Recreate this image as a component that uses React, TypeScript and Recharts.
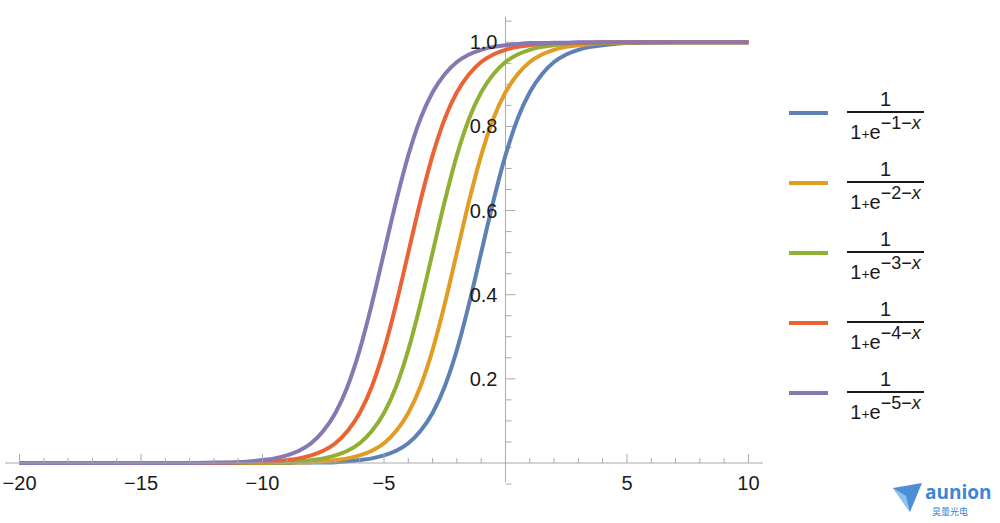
import React from "react";
import { LineChart, Line, XAxis, YAxis, ReferenceLine } from "recharts";

// sample points along x (denser where the curves bend)
const xValues = [
  -20, -19, -18, -17, -16, -15, -14, -13, -12, -11, -10,
  -9.5, -9, -8.5, -8, -7.5, -7, -6.5, -6, -5.5, -5, -4.5, -4, -3.5, -3, -2.5, -2, -1.5, -1, -0.5,
  0, 0.5, 1, 1.5, 2, 2.5, 3, 3.5, 4, 4.5,
  5, 6, 7, 8, 9, 10,
];

// 1/(1+e^(-1-x))
const curve1 = [
  0, 0, 0, 0, 0, 0, 0, 0, 0, 0, 0,
  0, 0, 0.001, 0.001, 0.001, 0.002, 0.004, 0.007, 0.011, 0.018, 0.029, 0.047, 0.076, 0.119, 0.182, 0.269, 0.378, 0.5, 0.622,
  0.731, 0.818, 0.881, 0.924, 0.953, 0.971, 0.982, 0.989, 0.993, 0.996,
  0.998, 0.999, 1, 1, 1, 1,
];
// 1/(1+e^(-2-x))
const curve2 = [
  0, 0, 0, 0, 0, 0, 0, 0, 0, 0, 0,
  0.001, 0.001, 0.001, 0.002, 0.004, 0.007, 0.011, 0.018, 0.029, 0.047, 0.076, 0.119, 0.182, 0.269, 0.378, 0.5, 0.622, 0.731, 0.818,
  0.881, 0.924, 0.953, 0.971, 0.982, 0.989, 0.993, 0.996, 0.998, 0.998,
  0.999, 1, 1, 1, 1, 1,
];
// 1/(1+e^(-3-x))
const curve3 = [
  0, 0, 0, 0, 0, 0, 0, 0, 0, 0, 0.001,
  0.001, 0.002, 0.004, 0.007, 0.011, 0.018, 0.029, 0.047, 0.076, 0.119, 0.182, 0.269, 0.378, 0.5, 0.622, 0.731, 0.818, 0.881, 0.924,
  0.953, 0.971, 0.982, 0.989, 0.993, 0.996, 0.998, 0.998, 0.999, 0.999,
  1, 1, 1, 1, 1, 1,
];
// 1/(1+e^(-4-x))
const curve4 = [
  0, 0, 0, 0, 0, 0, 0, 0, 0, 0.001, 0.002,
  0.004, 0.007, 0.011, 0.018, 0.029, 0.047, 0.076, 0.119, 0.182, 0.269, 0.378, 0.5, 0.622, 0.731, 0.818, 0.881, 0.924, 0.953, 0.971,
  0.982, 0.989, 0.993, 0.996, 0.998, 0.998, 0.999, 0.999, 1, 1,
  1, 1, 1, 1, 1, 1,
];
// 1/(1+e^(-5-x))
const curve5 = [
  0, 0, 0, 0, 0, 0, 0, 0, 0.001, 0.002, 0.007,
  0.011, 0.018, 0.029, 0.047, 0.076, 0.119, 0.182, 0.269, 0.378, 0.5, 0.622, 0.731, 0.818, 0.881, 0.924, 0.953, 0.971, 0.982, 0.989,
  0.993, 0.996, 0.998, 0.998, 0.999, 0.999, 1, 1, 1, 1,
  1, 1, 1, 1, 1, 1,
];

const shifts = ["1", "2", "3", "4", "5"];
const colors = ["#5e81b5", "#e19c24", "#8fb032", "#eb6235", "#8778b3"];
const curves = [curve1, curve2, curve3, curve4, curve5];

const xTicks = [
  -20, -19, -18, -17, -16, -15, -14, -13, -12, -11, -10, -9, -8, -7, -6, -5, -4, -3, -2, -1,
  1, 2, 3, 4, 5, 6, 7, 8, 9, 10,
];
const xMajor = [-20, -15, -10, -5, 5, 10];
const xMajorLabels = ["\u221220", "\u221215", "\u221210", "\u22125", "5", "10"];

const yMajor = [0.2, 0.4, 0.6, 0.8, 1.0];
const yMajorLabels = ["0.2", "0.4", "0.6", "0.8", "1.0"];
const yMinor = [-0.05, 0.05, 0.1, 0.15, 0.25, 0.3, 0.35, 0.45, 0.5, 0.55, 0.65, 0.7, 0.75, 0.85, 0.9, 0.95, 1.05];

const data = xValues.map((x, i) => {
  const row: Record<string, number> = { x };
  curves.forEach((c, k) => (row["s" + shifts[k]] = c[i]));
  return row;
});

const axisColor = "#a9a9a9";
const font = "'Liberation Sans', Arial, sans-serif";

function XTick(props: any) {
  const { x, y, payload } = props;
  const idx = xMajor.indexOf(payload.value);
  const major = idx >= 0;
  return (
    <g>
      <line x1={x} x2={x} y1={y} y2={y - (major ? 9 : 5)} stroke={axisColor} />
      {major && (
        <text x={x} y={y + 27} textAnchor="middle" fontSize={20} fill="#1a1a1a" fontFamily={font}>
          {xMajorLabels[idx]}
        </text>
      )}
    </g>
  );
}

function Watermark() {
  return (
    <svg width={110} height={42} style={{ position: "absolute", left: 890, top: 480 }}>
      <polygon points="3,8 32,3 20,32" fill="#4d8fd6" />
      <polygon points="3,8 20,32 16,16" fill="#8cc4ef" />
      <text x={35} y={19} fontSize={19} fontWeight="bold" fill="#3d86d3" fontFamily="'Open Sans', sans-serif">
        aunion
      </text>
      <text x={42} y={35} fontSize={9} fill="#3d86d3" fontFamily="'Noto Sans CJK SC', sans-serif">
        昊量光电
      </text>
    </svg>
  );
}

export default function App() {
  return (
    <div style={{ position: "relative", width: 1000, height: 523, background: "#fff", fontFamily: font }}>
      <style>{"body{margin:0}"}</style>
      <LineChart width={1000} height={523} data={data} margin={{ top: 17, right: 237, bottom: 30, left: 5 }}>
        <XAxis
          dataKey="x"
          type="number"
          domain={[-20.6, 10.6]}
          ticks={xTicks}
          interval={0}
          tick={<XTick />}
          tickLine={false}
          tickSize={0}
          tickMargin={0}
          height={30}
          axisLine={{ stroke: axisColor }}
        />
        <YAxis type="number" domain={[0, 1.06]} hide />
        <ReferenceLine
          segment={[{ x: 0, y: -0.045 }, { x: 0, y: 1.06 }]}
          stroke={axisColor}
          ifOverflow="visible"
        />
        {yMinor.map((v) => (
          <ReferenceLine
            key={"m" + v}
            segment={[{ x: 0, y: v }, { x: 0.25, y: v }]}
            stroke={axisColor}
            ifOverflow="visible"
          />
        ))}
        {yMajor.map((v, i) => (
          <ReferenceLine
            key={"M" + v}
            segment={[{ x: 0, y: v }, { x: 0.41, y: v }]}
            stroke={axisColor}
            ifOverflow="visible"
            label={{ value: yMajorLabels[i], position: "left", offset: 8, fontSize: 20, fill: "#1a1a1a", fontFamily: font }}
          />
        ))}
        {shifts.map((s, k) => (
          <Line
            key={s}
            dataKey={"s" + s}
            type="monotone"
            stroke={colors[k]}
            strokeWidth={4}
            dot={false}
            isAnimationActive={false}
          />
        ))}
      </LineChart>

      {shifts.map((s, k) => {
        const cy = 113 + k * 70;
        return (
          <React.Fragment key={s}>
            <div style={{ position: "absolute", left: 789, top: cy - 2, width: 39, height: 4, background: colors[k] }} />
            <div
              style={{
                position: "absolute",
                left: 847,
                top: cy - 25,
                width: 77,
                display: "flex",
                flexDirection: "column",
                alignItems: "center",
                color: "#1a1a1a",
              }}
            >
              <div style={{ fontSize: 20, lineHeight: "23px" }}>1</div>
              <div style={{ width: 77, height: 2, background: "#1a1a1a" }} />
              <div style={{ fontSize: 20, lineHeight: "22px", paddingTop: 8, whiteSpace: "nowrap" }}>
                1<span style={{ fontSize: 14 }}>+</span>e
                <span style={{ fontSize: 18, position: "relative", top: -10 }}>
                  {"\u2212" + s + "\u2212"}
                  <i>x</i>
                </span>
              </div>
            </div>
          </React.Fragment>
        );
      })}
      <Watermark />
    </div>
  );
}
